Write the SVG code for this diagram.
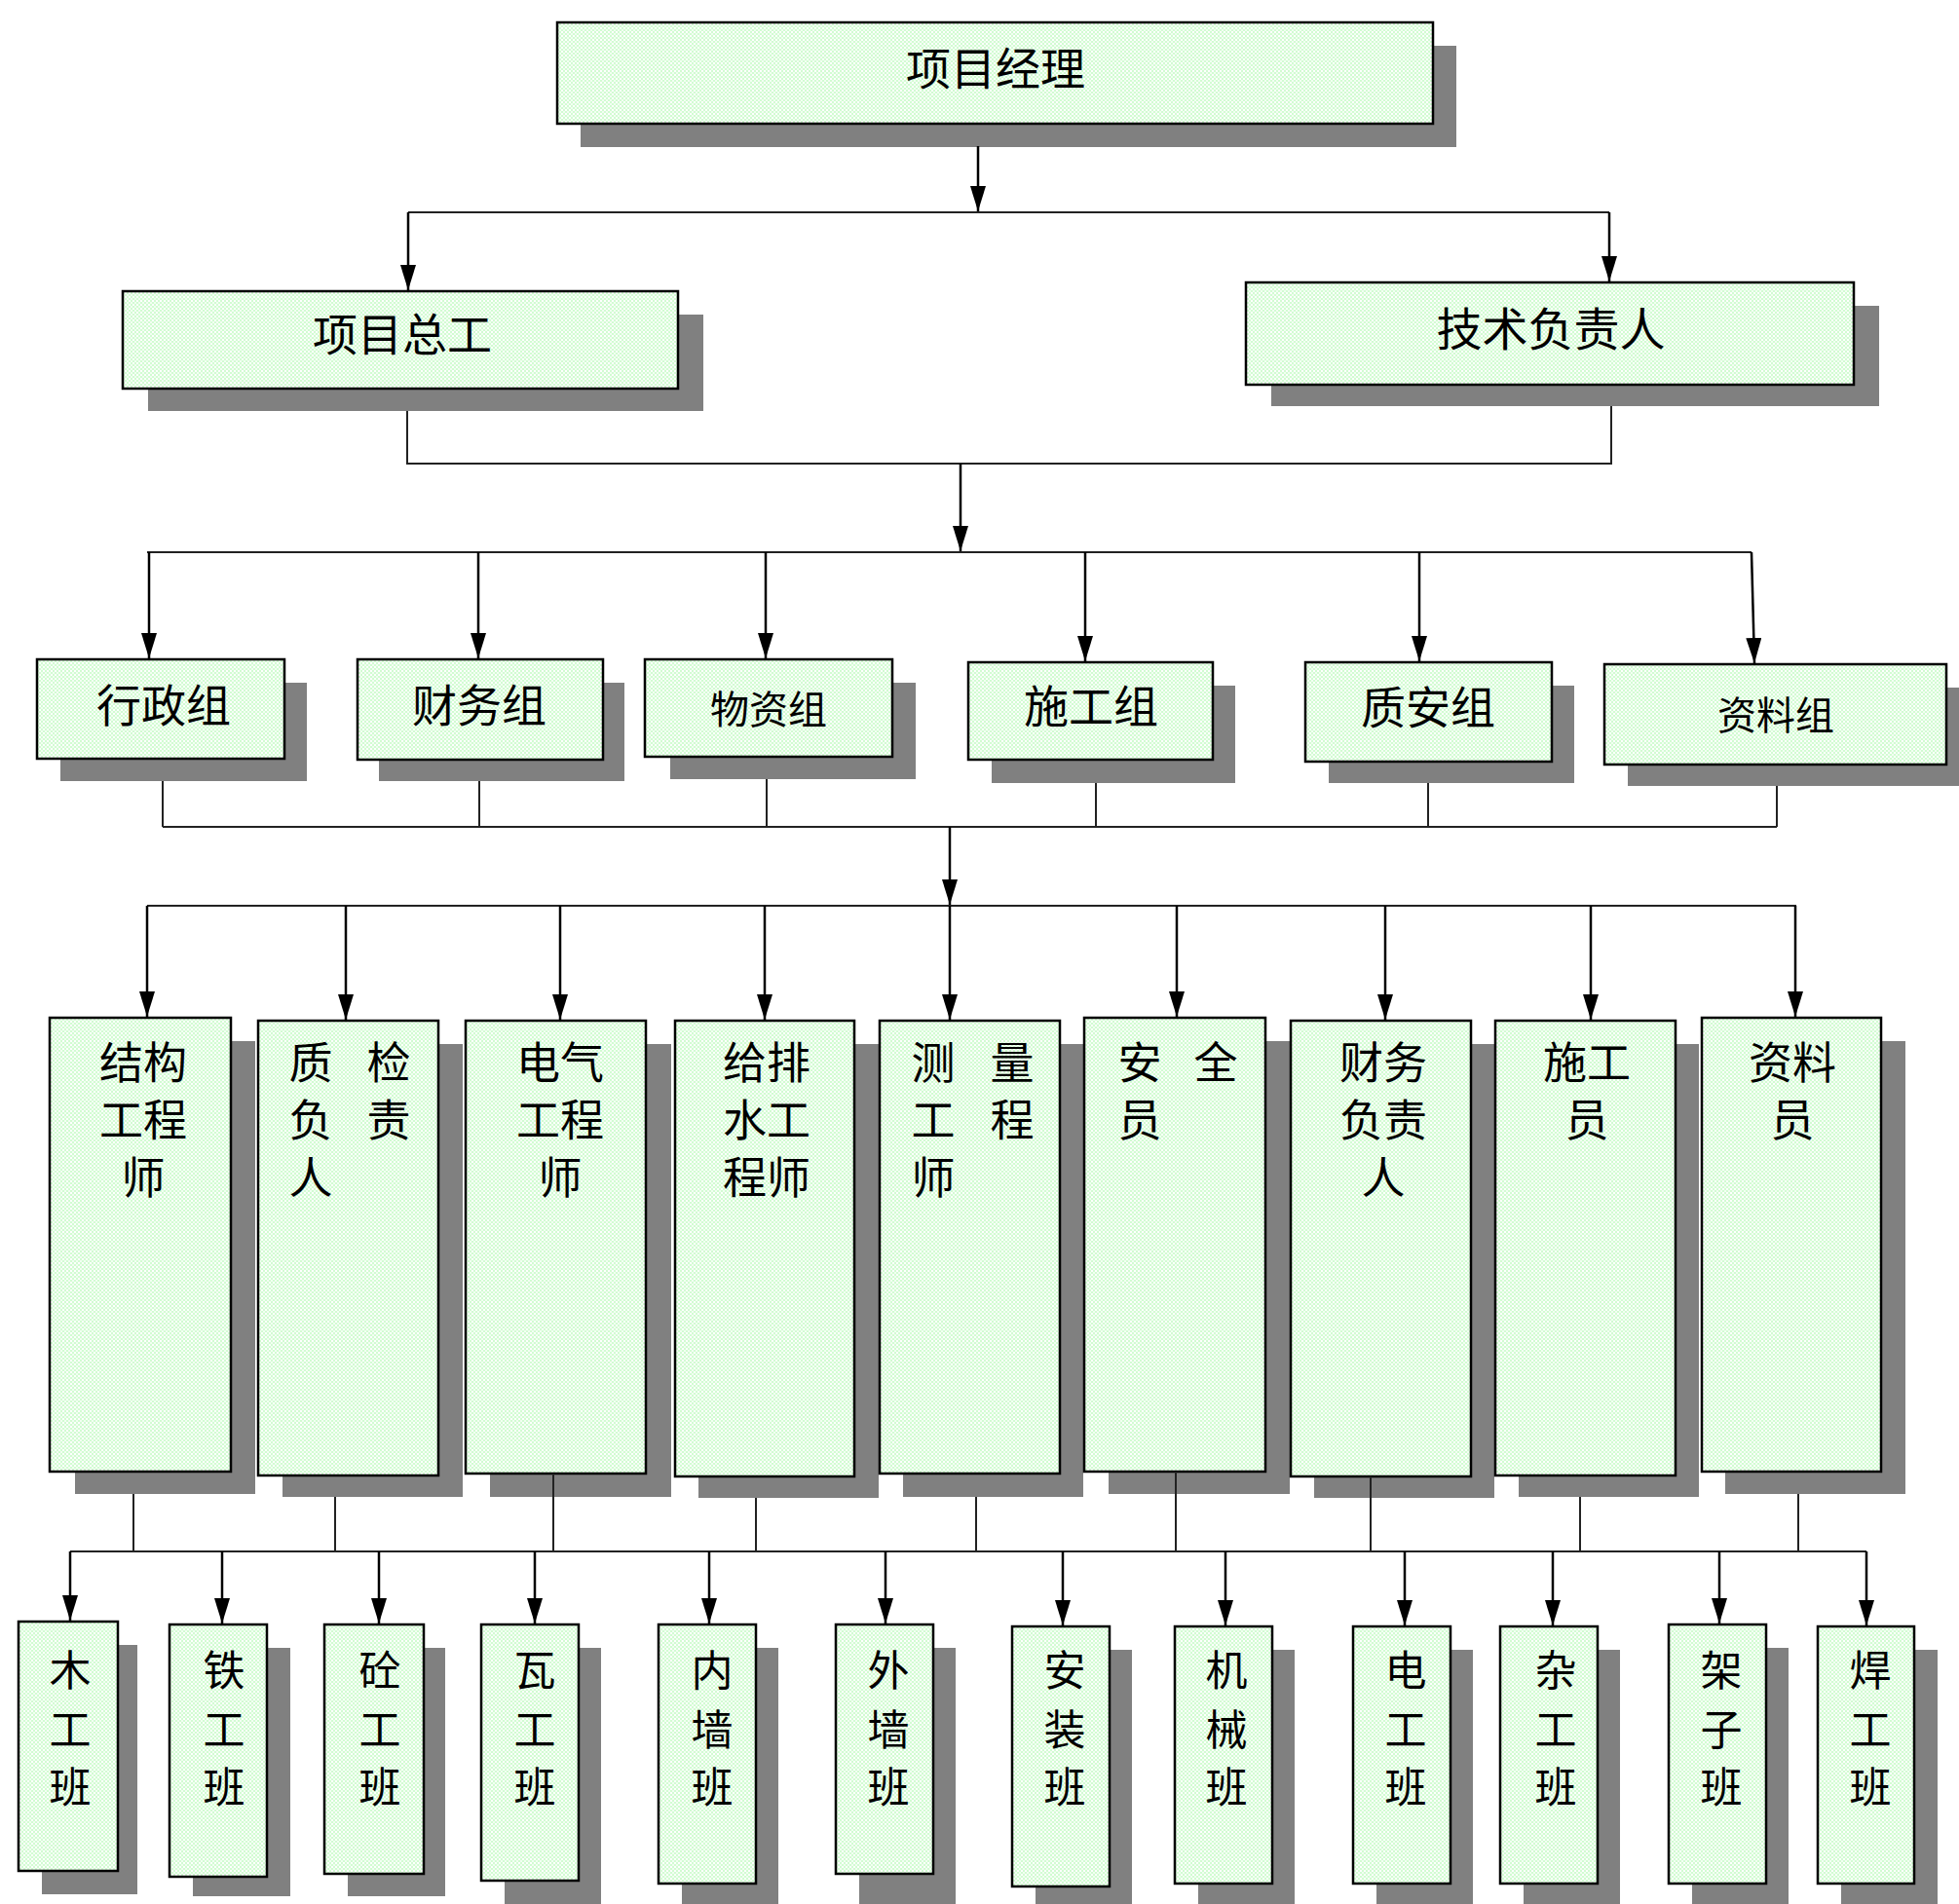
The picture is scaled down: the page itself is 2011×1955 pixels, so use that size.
<svg xmlns="http://www.w3.org/2000/svg" width="2011" height="1955" viewBox="0 0 2011 1955">
<defs>
<pattern id="dots" width="4" height="4" patternUnits="userSpaceOnUse">
<rect width="4" height="4" fill="#d2fbd2"/>
<rect x="0" y="0" width="2" height="2" fill="#ffffff"/>
<rect x="2" y="2" width="2" height="2" fill="#f2fff2"/>
</pattern>
<marker id="arr" markerUnits="userSpaceOnUse" markerWidth="26" markerHeight="16" viewBox="0 0 26 16" refX="26" refY="8" orient="auto">
<path d="M0,0 L26,8 L0,16 z" fill="#000"/>
</marker>
</defs>
<style>
.sh{fill:#808080}
.bx{fill:url(#dots);stroke:#000;stroke-width:2.5}
.t{font-family:"Noto Sans CJK SC","Noto Sans CJK TC",sans-serif;fill:#000;text-anchor:middle;dominant-baseline:central}
.ln{fill:none;stroke:#222;stroke-width:2}
.ar{fill:none;stroke:#000;stroke-width:2.5;marker-end:url(#arr)}
</style>
<rect width="2011" height="1955" fill="#fff"/>

<!-- level 1 -->
<g id="n-xmjl">
<rect class="sh" x="596" y="47" width="899" height="104"/>
<rect class="bx" x="572" y="23" width="899" height="104"/>
<text class="t" x="1022" y="67" font-size="46">项目经理</text>
</g>
<!-- level 2 -->
<g id="n-xmzg">
<rect class="sh" x="152" y="323" width="570" height="99"/>
<rect class="bx" x="126" y="299" width="570" height="100"/>
<text class="t" x="413" y="340" font-size="46">项目总工</text>
</g>
<g id="n-jsfzr">
<rect class="sh" x="1305" y="314" width="624" height="103"/>
<rect class="bx" x="1279" y="290" width="624" height="105"/>
<text class="t" x="1592" y="334" font-size="47">技术负责人</text>
</g>
<!-- level 3 -->
<g id="n-xzz">
<rect class="sh" x="62" y="701" width="253" height="101"/>
<rect class="bx" x="38" y="677" width="254" height="102"/>
<text class="t" x="168" y="721" font-size="46">行政组</text>
</g>
<g id="n-cwz">
<rect class="sh" x="389" y="701" width="252" height="101"/>
<rect class="bx" x="367" y="677" width="252" height="103"/>
<text class="t" x="492" y="721" font-size="46">财务组</text>
</g>
<g id="n-wzz">
<rect class="sh" x="688" y="701" width="252" height="99"/>
<rect class="bx" x="662" y="677" width="254" height="100"/>
<text class="t" x="789" y="726" font-size="40">物资组</text>
</g>
<g id="n-sgz">
<rect class="sh" x="1018" y="704" width="250" height="100"/>
<rect class="bx" x="994" y="680" width="251" height="100"/>
<text class="t" x="1120" y="722" font-size="46">施工组</text>
</g>
<g id="n-zaz">
<rect class="sh" x="1364" y="704" width="252" height="100"/>
<rect class="bx" x="1340" y="680" width="253" height="102"/>
<text class="t" x="1466" y="723" font-size="46">质安组</text>
</g>
<g id="n-zlz">
<rect class="sh" x="1671" y="706" width="340" height="101"/>
<rect class="bx" x="1647" y="682" width="351" height="103"/>
<text class="t" x="1823" y="732" font-size="40">资料组</text>
</g>
<!-- level 4 -->
<g id="n-jggcs">
<rect class="sh" x="77" y="1069" width="185" height="465"/>
<rect class="bx" x="51" y="1045" width="186" height="466"/>
<text class="t" font-size="45"><tspan x="147" y="1088">结构</tspan><tspan x="147" y="1147">工程</tspan><tspan x="147" y="1206">师</tspan></text>
</g>
<g id="n-zjfzr">
<rect class="sh" x="290" y="1072" width="185" height="465"/>
<rect class="bx" x="265" y="1048" width="185" height="467"/>
<text class="t" font-size="45"><tspan x="319" y="1088">质</tspan><tspan x="399" y="1088">检</tspan><tspan x="319" y="1147">负</tspan><tspan x="399" y="1147">责</tspan><tspan x="319" y="1206">人</tspan></text>
</g>
<g id="n-dqgcs">
<rect class="sh" x="503" y="1072" width="186" height="465"/>
<rect class="bx" x="478" y="1048" width="185" height="465"/>
<text class="t" font-size="45"><tspan x="575" y="1088">电气</tspan><tspan x="575" y="1147">工程</tspan><tspan x="575" y="1206">师</tspan></text>
</g>
<g id="n-gpsgcs">
<rect class="sh" x="717" y="1072" width="185" height="466"/>
<rect class="bx" x="693" y="1048" width="184" height="468"/>
<text class="t" font-size="45"><tspan x="787" y="1088">给排</tspan><tspan x="787" y="1147">水工</tspan><tspan x="787" y="1206">程师</tspan></text>
</g>
<g id="n-clgcs">
<rect class="sh" x="927" y="1072" width="185" height="465"/>
<rect class="bx" x="903" y="1048" width="185" height="465"/>
<text class="t" font-size="45"><tspan x="958" y="1088">测</tspan><tspan x="1039" y="1088">量</tspan><tspan x="958" y="1147">工</tspan><tspan x="1039" y="1147">程</tspan><tspan x="958" y="1206">师</tspan></text>
</g>
<g id="n-aqy">
<rect class="sh" x="1138" y="1069" width="186" height="465"/>
<rect class="bx" x="1113" y="1045" width="186" height="466"/>
<text class="t" font-size="45"><tspan x="1170" y="1088">安</tspan><tspan x="1248" y="1088">全</tspan><tspan x="1170" y="1147">员</tspan></text>
</g>
<g id="n-cwfzr">
<rect class="sh" x="1349" y="1072" width="185" height="466"/>
<rect class="bx" x="1325" y="1048" width="185" height="468"/>
<text class="t" font-size="45"><tspan x="1420" y="1088">财务</tspan><tspan x="1420" y="1147">负责</tspan><tspan x="1420" y="1206">人</tspan></text>
</g>
<g id="n-sgy">
<rect class="sh" x="1559" y="1072" width="185" height="465"/>
<rect class="bx" x="1535" y="1048" width="185" height="467"/>
<text class="t" font-size="45"><tspan x="1629" y="1088">施工</tspan><tspan x="1629" y="1147">员</tspan></text>
</g>
<g id="n-zly">
<rect class="sh" x="1771" y="1069" width="185" height="465"/>
<rect class="bx" x="1747" y="1045" width="184" height="466"/>
<text class="t" font-size="45"><tspan x="1840" y="1088">资料</tspan><tspan x="1840" y="1147">员</tspan></text>
</g>

<!-- connectors -->
<g id="connectors">
<path class="ar" d="M1004,150 V217"/>
<path class="ln" d="M419,218 H1652"/>
<path class="ar" d="M419,218 V298"/>
<path class="ar" d="M1652,218 V289"/>
<path class="ln" d="M418,422 V476 H1654 V417"/>
<path class="ar" d="M986,476 V566"/>
<path class="ln" d="M151,567 H1798"/>
<path class="ar" d="M153,567 V676"/>
<path class="ar" d="M491,567 V676"/>
<path class="ar" d="M786,567 V676"/>
<path class="ar" d="M1114,567 V679"/>
<path class="ar" d="M1457,567 V679"/>
<path class="ar" d="M1798,567 L1801,681"/>
<path class="ln" d="M167,802 V849 M787,800 V849 M1125,804 V849 M1466,804 V849 M1824,807 V849"/>
<path class="ln" d="M492,802 V849" stroke-width="3.5"/>
<path class="ln" d="M167,849 H1824"/>
<path class="ar" d="M975,849 V929"/>
<path class="ln" d="M151,930 H1844"/>
<path class="ar" d="M151,930 V1044"/>
<path class="ar" d="M355,930 V1047"/>
<path class="ar" d="M575,930 V1047"/>
<path class="ar" d="M785,930 V1047"/>
<path class="ar" d="M975,930 V1047"/>
<path class="ar" d="M1208,930 V1044"/>
<path class="ar" d="M1422,930 V1047"/>
<path class="ar" d="M1633,930 V1047"/>
<path class="ar" d="M1843,930 V1044"/>
<path class="ln" d="M137,1534 V1593" stroke-width="3.5"/>
<path class="ln" d="M344,1537 V1593 M568,1513 V1593 M776,1538 V1593 M1002,1537 V1593 M1207,1511 V1593 M1407,1516 V1593 M1846,1534 V1593"/>
<path class="ln" d="M1622,1537 V1593" stroke-width="3.5"/>
<path class="ln" d="M72,1593 H1916"/>
<path class="ar" d="M72,1593 V1664"/>
<path class="ar" d="M228,1593 V1667"/>
<path class="ar" d="M389,1593 V1667"/>
<path class="ar" d="M549,1593 V1667"/>
<path class="ar" d="M728,1593 V1667"/>
<path class="ar" d="M909,1593 V1667"/>
<path class="ar" d="M1091,1593 V1669"/>
<path class="ar" d="M1258,1593 V1669"/>
<path class="ar" d="M1442,1593 V1669"/>
<path class="ar" d="M1594,1593 V1669"/>
<path class="ar" d="M1765,1593 V1667"/>
<path class="ar" d="M1916,1593 V1669"/>
</g>

<!-- level 5 -->
<g id="n-mgb">
<rect class="sh" x="43" y="1689" width="98" height="256"/>
<rect class="bx" x="19" y="1665" width="102" height="256"/>
<text class="t" font-size="43"><tspan x="72" y="1712">木</tspan><tspan x="72" y="1773">工</tspan><tspan x="72" y="1832">班</tspan></text>
</g>
<g id="n-tgb">
<rect class="sh" x="198" y="1692" width="100" height="255"/>
<rect class="bx" x="174" y="1668" width="100" height="259"/>
<text class="t" font-size="43"><tspan x="230" y="1712">铁</tspan><tspan x="230" y="1773">工</tspan><tspan x="230" y="1832">班</tspan></text>
</g>
<g id="n-tongb">
<rect class="sh" x="357" y="1692" width="100" height="255"/>
<rect class="bx" x="333" y="1668" width="102" height="256"/>
<text class="t" font-size="43"><tspan x="390" y="1712">砼</tspan><tspan x="390" y="1773">工</tspan><tspan x="390" y="1832">班</tspan></text>
</g>
<g id="n-wagb">
<rect class="sh" x="518" y="1692" width="99" height="263"/>
<rect class="bx" x="494" y="1668" width="100" height="263"/>
<text class="t" font-size="43"><tspan x="549" y="1712">瓦</tspan><tspan x="549" y="1773">工</tspan><tspan x="549" y="1832">班</tspan></text>
</g>
<g id="n-nqb">
<rect class="sh" x="700" y="1692" width="99" height="263"/>
<rect class="bx" x="676" y="1668" width="100" height="266"/>
<text class="t" font-size="43"><tspan x="731" y="1712">内</tspan><tspan x="731" y="1773">墙</tspan><tspan x="731" y="1832">班</tspan></text>
</g>
<g id="n-wqb">
<rect class="sh" x="882" y="1692" width="99" height="263"/>
<rect class="bx" x="858" y="1668" width="100" height="256"/>
<text class="t" font-size="43"><tspan x="912" y="1712">外</tspan><tspan x="912" y="1773">墙</tspan><tspan x="912" y="1832">班</tspan></text>
</g>
<g id="n-azb">
<rect class="sh" x="1063" y="1694" width="99" height="261"/>
<rect class="bx" x="1039" y="1670" width="100" height="267"/>
<text class="t" font-size="43"><tspan x="1093" y="1712">安</tspan><tspan x="1093" y="1773">装</tspan><tspan x="1093" y="1832">班</tspan></text>
</g>
<g id="n-jxb">
<rect class="sh" x="1230" y="1694" width="99" height="261"/>
<rect class="bx" x="1206" y="1670" width="100" height="264"/>
<text class="t" font-size="43"><tspan x="1259" y="1712">机</tspan><tspan x="1259" y="1773">械</tspan><tspan x="1259" y="1832">班</tspan></text>
</g>
<g id="n-dgb">
<rect class="sh" x="1413" y="1694" width="99" height="261"/>
<rect class="bx" x="1389" y="1670" width="100" height="264"/>
<text class="t" font-size="43"><tspan x="1443" y="1712">电</tspan><tspan x="1443" y="1773">工</tspan><tspan x="1443" y="1832">班</tspan></text>
</g>
<g id="n-zgb">
<rect class="sh" x="1564" y="1694" width="99" height="261"/>
<rect class="bx" x="1540" y="1670" width="100" height="264"/>
<text class="t" font-size="43"><tspan x="1597" y="1712">杂</tspan><tspan x="1597" y="1773">工</tspan><tspan x="1597" y="1832">班</tspan></text>
</g>
<g id="n-jzb">
<rect class="sh" x="1737" y="1692" width="99" height="263"/>
<rect class="bx" x="1713" y="1668" width="100" height="266"/>
<text class="t" font-size="43"><tspan x="1767" y="1712">架</tspan><tspan x="1767" y="1773">子</tspan><tspan x="1767" y="1832">班</tspan></text>
</g>
<g id="n-hgb">
<rect class="sh" x="1890" y="1694" width="99" height="261"/>
<rect class="bx" x="1866" y="1670" width="99" height="264" stroke-width="4"/>
<text class="t" font-size="43"><tspan x="1920" y="1712">焊</tspan><tspan x="1920" y="1773">工</tspan><tspan x="1920" y="1832">班</tspan></text>
</g>
</svg>
